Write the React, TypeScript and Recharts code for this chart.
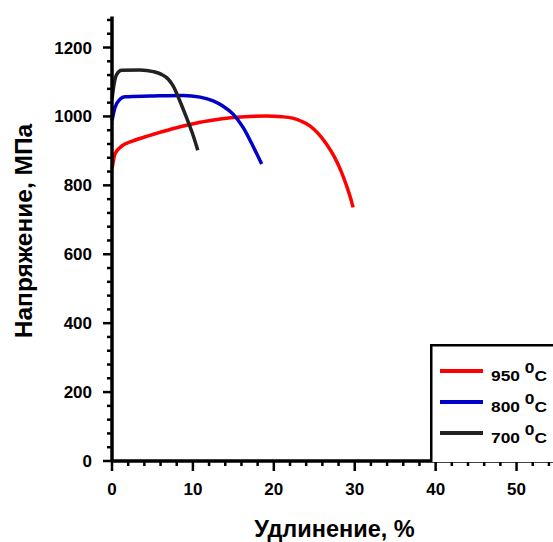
import React from 'react';
import { LineChart, Line, XAxis, YAxis, Legend } from 'recharts';

const FONT = '"Liberation Sans", Arial, sans-serif';

const names = ['950', '800', '700'];
const colors = ['#FF0000', '#0000C8', '#222222'];

const elong950 = [0, 0.37, 1.0, 2.6, 4.7, 6.75, 8.8, 10.9, 13.0, 15.0, 17.0, 19.0, 21.0, 22.3, 23.4, 24.5, 25.5, 26.5, 27.5, 28.3, 29.0, 29.5, 29.8];
const stress950 = [847, 891, 910, 929, 945, 959, 972, 983, 991, 997, 1000, 1001, 999, 995, 986, 972, 950, 920, 882, 842, 798, 762, 736];

const elong800 = [0, 0.37, 0.99, 1.6, 4.7, 8.8, 10.9, 12.5, 13.7, 15.0, 16.2, 17.4, 18.5];
const stress800 = [988, 1026, 1050, 1057, 1059, 1061, 1056, 1045, 1030, 1006, 968, 915, 862];

const elong700 = [0, 0.25, 0.58, 1.2, 3.46, 5.1, 6.1, 6.96, 7.57, 8.4, 9.2, 10.04, 10.6];
const stress700 = [1050, 1093, 1122, 1134, 1135, 1130, 1122, 1108, 1088, 1044, 997, 944, 902];

const xMajor = [0, 10, 20, 30, 40, 50];
const xTicks = [0, 2, 4, 6, 8, 10, 12, 14, 16, 18, 20, 22, 24, 26, 28, 30, 32, 34, 36, 38, 40, 42, 44, 46, 48, 50, 52, 54];
const yMajor = [0, 200, 400, 600, 800, 1000, 1200];
const yTicks = [0, 40, 80, 120, 160, 200, 240, 280, 320, 360, 400, 440, 480, 520, 560, 600, 640, 680, 720, 760, 800, 840, 880, 920, 960, 1000, 1040, 1080, 1120, 1160, 1200, 1240, 1280];

const toData = (xs: number[], ys: number[]) => xs.map((x, i) => ({ x, y: ys[i] }));
const seriesData = [toData(elong950, stress950), toData(elong800, stress800), toData(elong700, stress700)];

const XTick = (props: any) => {
  const { x, y, payload } = props;
  const v = payload.value;
  const major = xMajor.includes(v);
  return (
    <g>
      <line x1={x} x2={x} y1={y} y2={y + (major ? 10 : 5)} stroke="#000" strokeWidth={2.5} />
      {major && (
        <text x={x} y={y + 34} textAnchor="middle" fontFamily={FONT} fontWeight="bold" fontSize={17} fill="#000">
          {v}
        </text>
      )}
    </g>
  );
};

const YTick = (props: any) => {
  const { x, y, payload } = props;
  const v = payload.value;
  const major = yMajor.includes(v);
  return (
    <g>
      <line x1={x} x2={x - (major ? 9 : 5)} y1={y} y2={y} stroke="#000" strokeWidth={2.5} />
      {major && (
        <text x={x - 20} y={y + 6} textAnchor="end" fontFamily={FONT} fontWeight="bold" fontSize={17} fill="#000">
          {v}
        </text>
      )}
    </g>
  );
};

const YTitle = () => {
  const cx = 23;
  const cy = 231;
  return (
    <text x={cx} y={cy} transform={`rotate(-90, ${cx}, ${cy})`} textAnchor="middle" dominantBaseline="central"
      fontFamily={FONT} fontWeight="bold" fontSize={24.5} fill="#000">
      Напряжение, МПа
    </text>
  );
};

const LegendBox = () => (
  <svg width={140} height={118} style={{ display: 'block' }}>
    <rect x={1.25} y={1.25} width={160} height={120} fill="#fff" stroke="#000" strokeWidth={2.5} />
    {names.map((n, i) => {
      const cy = 27 + i * 31;
      return (
        <g key={n}>
          <line x1={10} x2={53} y1={cy} y2={cy} stroke={colors[i]} strokeWidth={4} />
          <text x={61} y={cy + 10} fontFamily={FONT} fontSize={14} fontWeight="bold" fill="#000"
            textLength={56} lengthAdjust="spacingAndGlyphs">
            {n + ' '}
            <tspan dy={-8}>0</tspan>
            <tspan dy={8}>C</tspan>
          </text>
        </g>
      );
    })}
  </svg>
);

export default function App() {
  return (
    <div style={{ position: 'absolute', left: 0, top: 0, width: 553, height: 542, overflow: 'hidden', background: '#fff' }}>
      <LineChart width={600} height={542} margin={{ top: 16.5, right: 43, bottom: 0, left: 0 }}>
        <XAxis xAxisId="top" orientation="top" type="number" dataKey="x" domain={[0, 55]} height={0}
          tick={false} tickLine={false} axisLine={{ stroke: '#000', strokeWidth: 3.5 }} />
        <XAxis type="number" dataKey="x" domain={[0, 55]} ticks={xTicks} interval={0} height={81}
          tickSize={0} tickMargin={0} tickLine={false} tick={<XTick />}
          axisLine={{ stroke: '#000', strokeWidth: 3.5 }}
          label={{ value: 'Удлинение, %', position: 'insideBottom', offset: 5, fontFamily: FONT, fontWeight: 'bold', fontSize: 23.5, fill: '#000' }} />
        <YAxis type="number" dataKey="y" domain={[0, 1290]} ticks={yTicks} interval={0} width={112}
          tickSize={0} tickMargin={0} tickLine={false} tick={<YTick />}
          axisLine={{ stroke: '#000', strokeWidth: 3.5 }}
          label={<YTitle />} />
        {seriesData.map((d, i) => (
          <Line key={names[i]} data={d} dataKey="y" name={names[i]} type="monotone" stroke={colors[i]}
            strokeWidth={3.5} dot={false} isAnimationActive={false} />
        ))}
        <Legend layout="horizontal" verticalAlign="middle" align="center" content={<LegendBox />}
          wrapperStyle={{ position: 'absolute', left: 430, top: 344, width: 140, height: 118 }} />
      </LineChart>
    </div>
  );
}
